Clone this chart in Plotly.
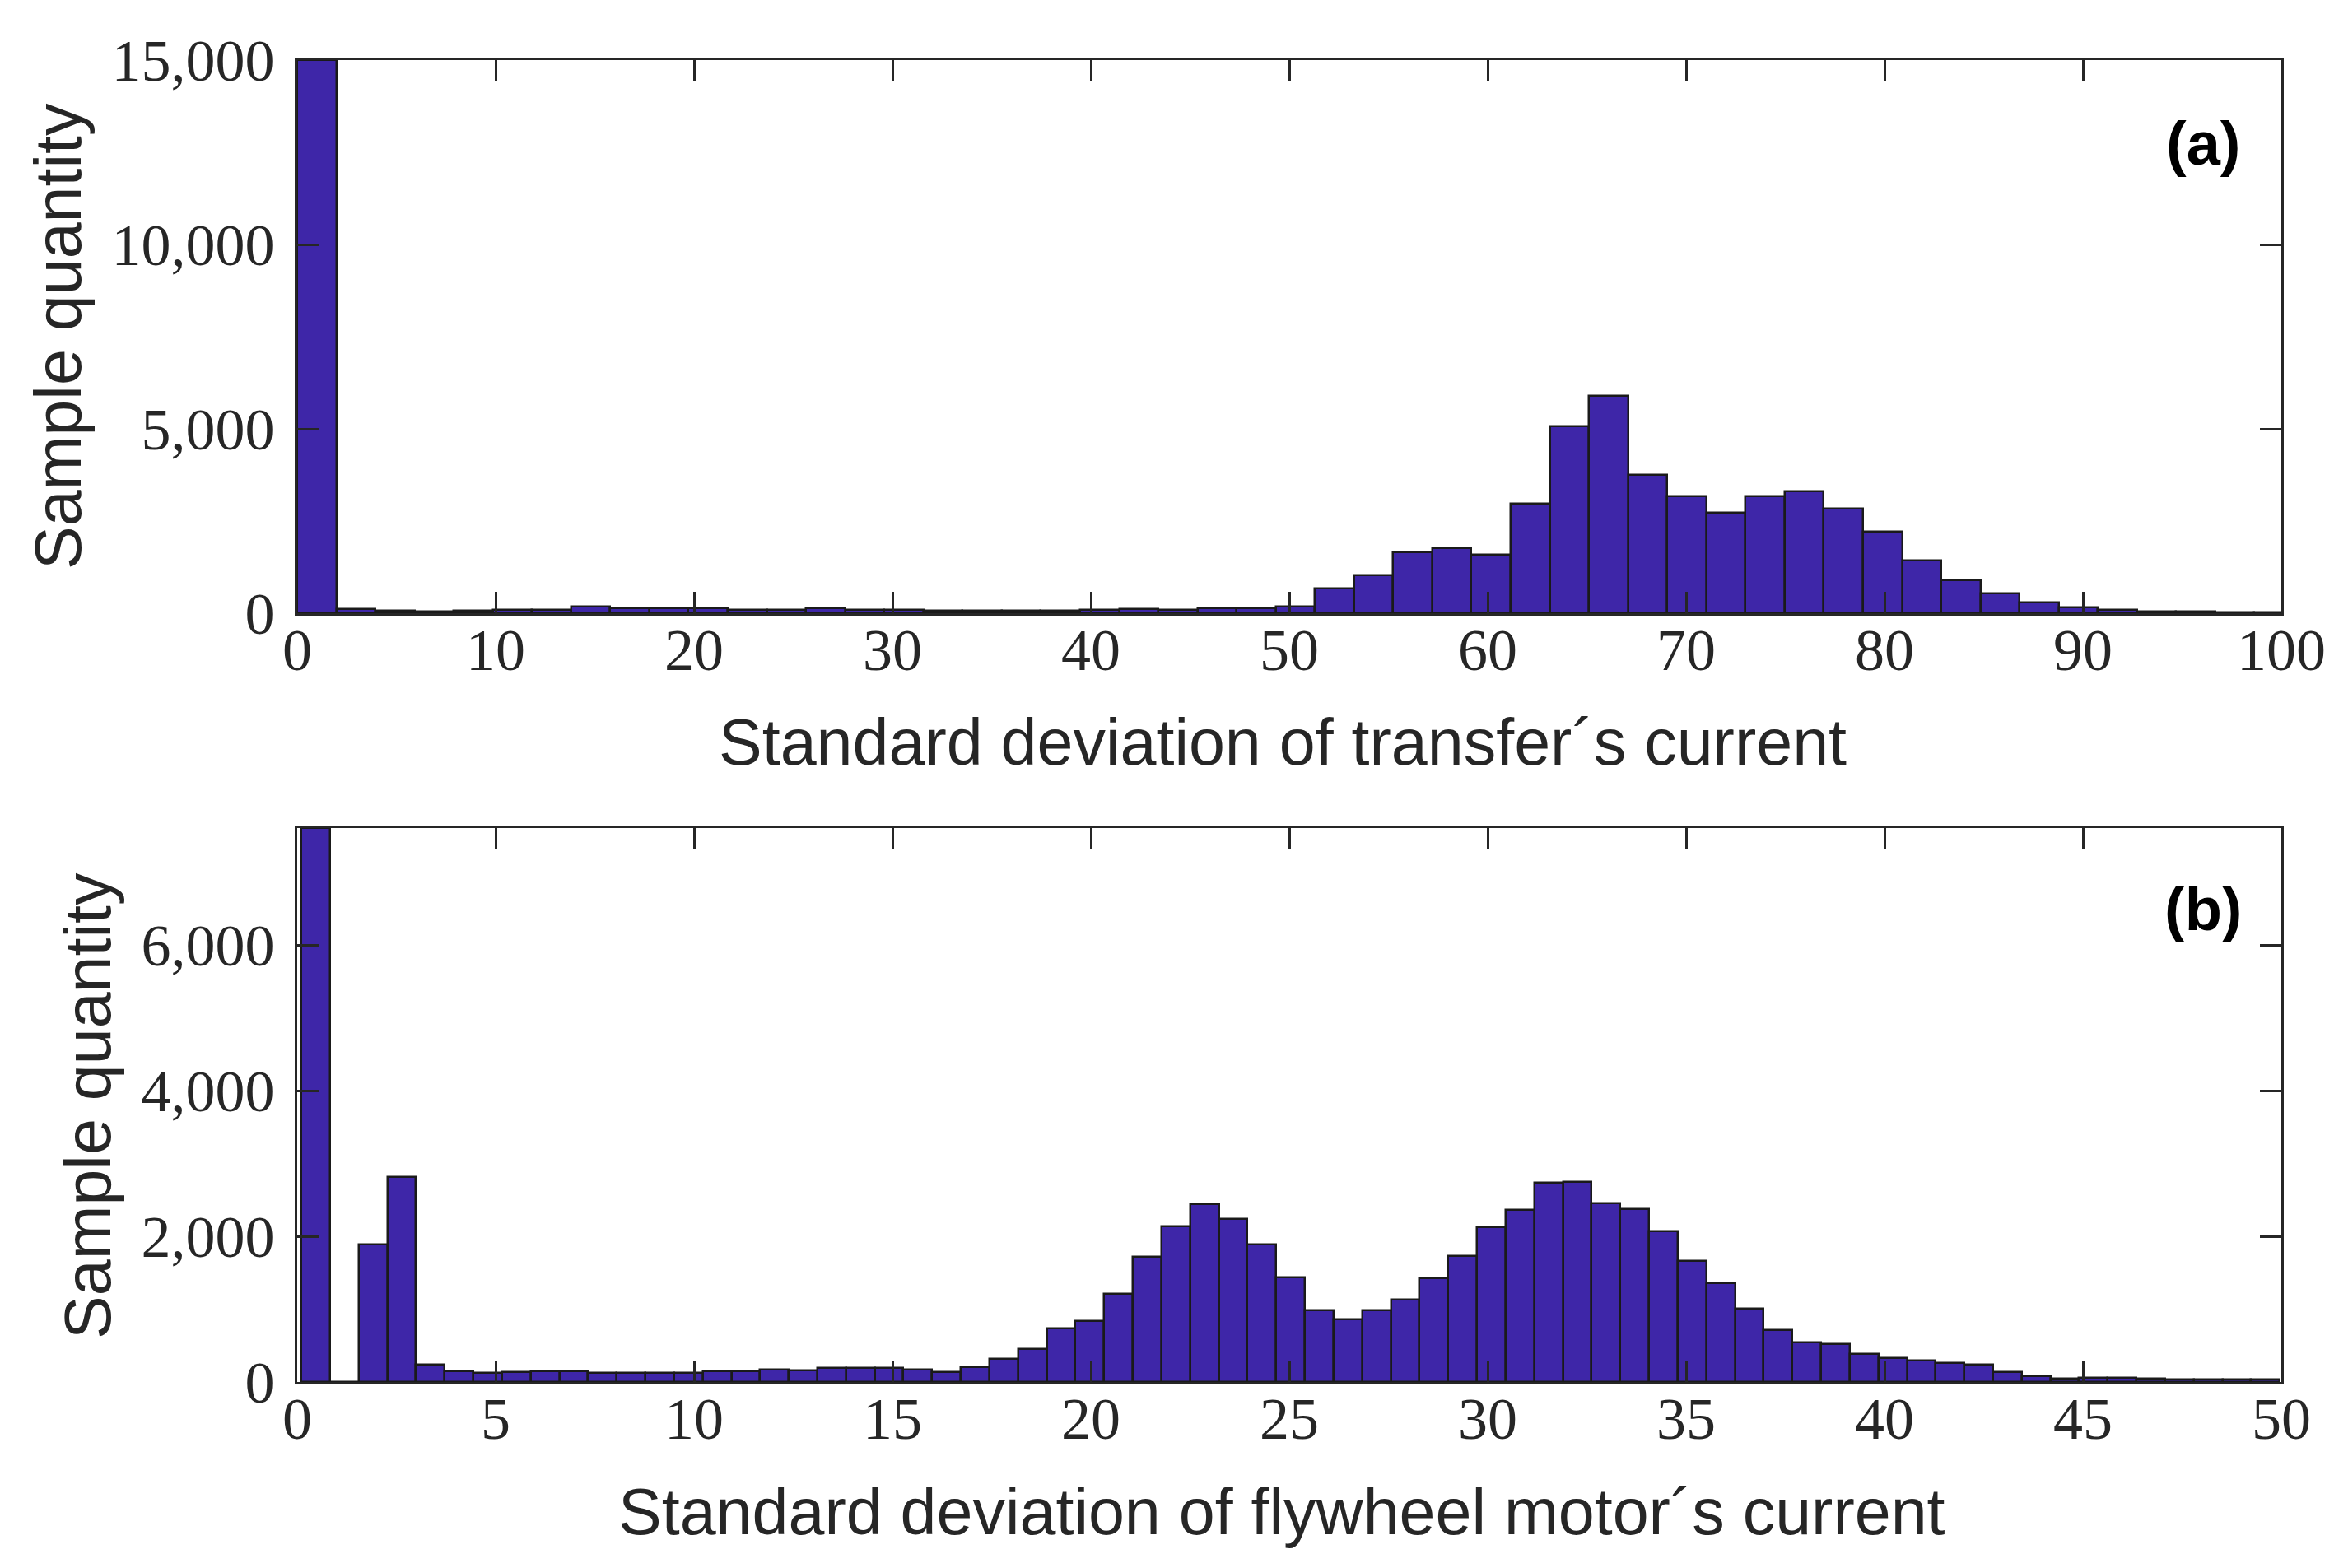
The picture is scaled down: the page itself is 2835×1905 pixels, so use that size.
import plotly.graph_objects as go

# ---------------- data ----------------
# (a) transfer current std-dev histogram: 51 bins of equal width starting at 0
transfer_counts = [15000, 112, 75, 52, 60, 100, 100, 179, 134, 134,
                   134, 89, 89, 134, 89, 89, 75, 75, 60, 60,
                   89, 119, 100, 140, 140, 180, 671, 1021, 1654, 1766,
                   1595, 2980, 5066, 5900, 3740, 3167, 2734, 3174, 3293, 2846,
                   2220, 1431, 900, 530, 300, 150, 85, 50, 37, 25, 15]
transfer_bin_start = 0.0
transfer_bin_width = 1.973

# (b) flywheel motor current std-dev histogram: 69 bins
flywheel_counts = [7600, 0, 1892, 2811, 243, 151, 119, 135, 151, 151,
                   130, 119, 119, 124, 151, 151, 173, 157, 195, 189,
                   189, 168, 135, 200, 314, 455, 736, 836, 1205, 1714,
                   2135, 2437, 2233, 1883, 1439, 987, 855, 987, 1130, 1420,
                   1732, 2128, 2365, 2730, 2745, 2455, 2373, 2071, 1660, 1356,
                   1005, 716, 546, 520, 388, 328, 294, 264, 233, 132,
                   75, 45, 56, 56, 49, 38, 34, 30, 38]
flywheel_bin_start = 0.105
flywheel_bin_width = 0.7226

x_ticks_a = [0, 10, 20, 30, 40, 50, 60, 70, 80, 90, 100]
x_ticks_b = [0, 5, 10, 15, 20, 25, 30, 35, 40, 45, 50]
y_ticks_a = [0, 5000, 10000, 15000]
y_ticks_b = [0, 2000, 4000, 6000]
y_label = "Sample quantity"
x_label_a = "Standard deviation of transfer\u00b4s current"
x_label_b = "Standard deviation of flywheel motor\u00b4s current"
panel_labels = ["(a)", "(b)"]

# ---------------- styling ----------------
W, H = 2835, 1905
BAR = "#3E26A8"
AX = "#262626"
SERIF = "Liberation Serif"
SANS = "Liberation Sans, Arial, sans-serif"

def centers(start, width, n):
    return [start + (i + 0.5) * width for i in range(n)]

fig = go.Figure()
fig.add_trace(go.Bar(
    x=centers(transfer_bin_start, transfer_bin_width, len(transfer_counts)),
    y=transfer_counts, width=transfer_bin_width,
    marker=dict(color=BAR, line=dict(color="#1a1a1a", width=2.5)),
    xaxis="x", yaxis="y", showlegend=False))
fig.add_trace(go.Bar(
    x=centers(flywheel_bin_start, flywheel_bin_width, len(flywheel_counts)),
    y=flywheel_counts, width=flywheel_bin_width,
    marker=dict(color=BAR, line=dict(color="#1a1a1a", width=2.5)),
    xaxis="x2", yaxis="y2", showlegend=False))

xd = [353 / W, 2763 / W]
yd_a = [1 - 737 / H, 1 - 65 / H]
yd_b = [1 - 1671 / H, 1 - 998 / H]

common = dict(showline=True, linecolor=AX, linewidth=3, mirror="ticks",
              ticks="inside", ticklen=26, tickwidth=3, tickcolor=AX,
              showgrid=False, zeroline=False, automargin=False,
              tickfont=dict(family=SERIF, size=72, color=AX))

def fmt(v):
    return f"{v:,}"

fig.update_layout(
    width=W, height=H, margin=dict(l=0, r=0, t=0, b=0),
    paper_bgcolor="white", plot_bgcolor="white", bargap=0,
    xaxis=dict(domain=xd, anchor="y", range=[0, 100], tickvals=x_ticks_a,
               ticktext=[str(v) for v in x_ticks_a], ticklabelstandoff=-20, **common),
    yaxis=dict(domain=yd_a, anchor="x", range=[0, 15000], tickvals=y_ticks_a,
               ticktext=[fmt(v) for v in y_ticks_a], ticklabelstandoff=10, **common),
    xaxis2=dict(domain=xd, anchor="y2", range=[0, 50], tickvals=x_ticks_b,
                ticktext=[str(v) for v in x_ticks_b], ticklabelstandoff=-20, **common),
    yaxis2=dict(domain=yd_b, anchor="x2", range=[0, 7605], tickvals=y_ticks_b,
                ticktext=[fmt(v) for v in y_ticks_b], ticklabelstandoff=10, **common),
)

ann_font = dict(family=SANS, size=79, color=AX)
annotations = [
    dict(text=y_label, x=62 / W, y=1 - 401 / H, textangle=-90, font=ann_font),
    dict(text=y_label, x=98 / W, y=1 - 1336 / H, textangle=-90, font=ann_font),
    dict(text=x_label_a, x=1550 / W, y=1 - 894 / H, font=ann_font),
    dict(text=x_label_b, x=1549 / W, y=1 - 1828 / H, font=ann_font),
    dict(text="<b>" + panel_labels[0] + "</b>", x=2668 / W, y=1 - 167 / H,
         font=dict(family=SANS, size=74, color="black")),
    dict(text="<b>" + panel_labels[1] + "</b>", x=2668 / W, y=1 - 1096 / H,
         font=dict(family=SANS, size=74, color="black")),
]
for a in annotations:
    a.update(xref="paper", yref="paper", showarrow=False,
             xanchor="center", yanchor="middle")
fig.update_layout(annotations=annotations)

fig.write_html("out.html")
